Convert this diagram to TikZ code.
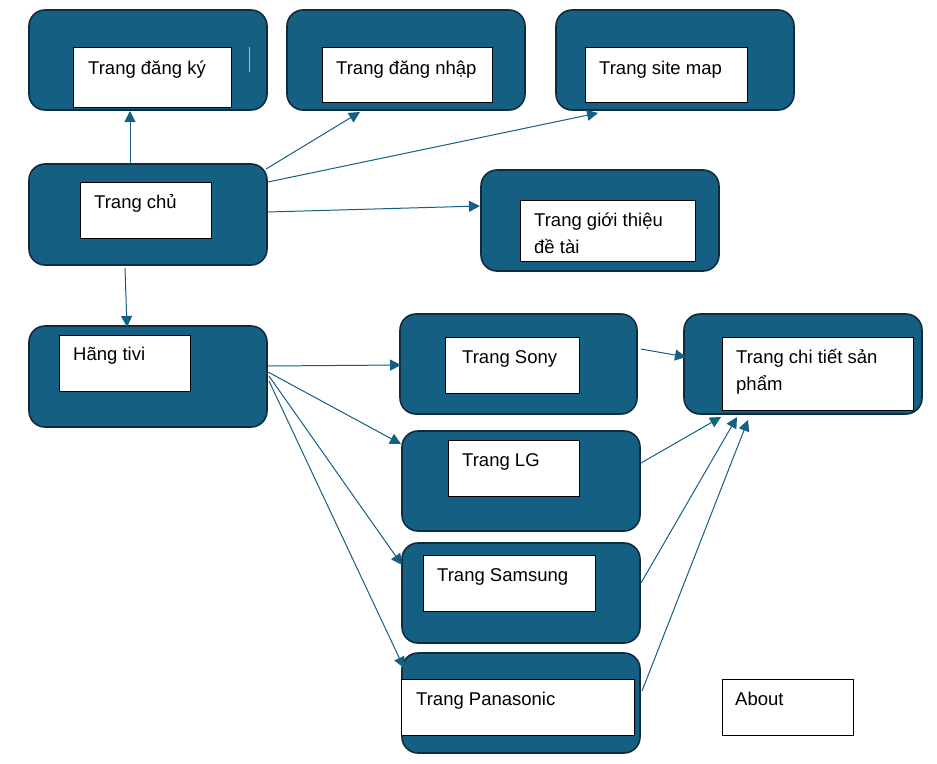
\documentclass[tikz,border=0pt]{standalone}
\usepackage{fontspec}
\setmainfont{Liberation Sans}
\usetikzlibrary{arrows.meta}
\definecolor{tealc}{HTML}{156082}
\definecolor{edgec}{HTML}{0E2C3E}
\definecolor{tanc}{HTML}{D2B49C}
\tikzset{
  outerbox/.style={rectangle, rounded corners=16pt, fill=tealc, draw=edgec, line width=1.6pt, inner sep=0pt, minimum width=238pt, minimum height=100pt},
  innerbox/.style={rectangle, fill=white, draw=black, line width=0.9pt, inner sep=0pt},
  lbl/.style={anchor=base west, inner sep=0pt, font=\fontsize{18.5pt}{22pt}\selectfont},
  conn/.style={draw=tealc, line width=1pt, -{Triangle[length=11pt,width=11pt]}}
}
\begin{document}
\begin{tikzpicture}[x=1pt,y=-1pt]
\useasboundingbox (0,0) rectangle (937,763);
\fill[white] (0,0) rectangle (937,763);

% outer rounded boxes
\node[outerbox] (o1) at (148,60) {};
\node[outerbox] (o2) at (406,60) {};
\node[outerbox] (o3) at (675,60) {};
\node[outerbox, minimum height=101pt] (o4) at (148,214.5) {};
\node[outerbox, minimum height=101pt] (o5) at (600,220.5) {};
\node[outerbox, minimum height=101pt] (o6) at (148,376.5) {};
\node[outerbox, minimum width=237pt] (o7) at (518.5,364) {};
\node[outerbox] (o8) at (521,481) {};
\node[outerbox] (o9) at (521,593) {};
\node[outerbox] (o10) at (521,703) {};
\node[outerbox] (o11) at (803,364) {};

% inner white boxes
\node[innerbox, minimum width=158pt, minimum height=60pt] (i1) at (152,77) {};
\node[innerbox, minimum width=170pt, minimum height=55pt] (i2) at (407,74.5) {};
\node[innerbox, minimum width=162pt, minimum height=55pt] (i3) at (666,74.5) {};
\node[innerbox, minimum width=131pt, minimum height=56pt] (i4) at (145.5,210) {};
\node[innerbox, minimum width=175pt, minimum height=61pt] (i5) at (607.5,230.5) {};
\node[innerbox, minimum width=131pt, minimum height=56pt] (i6) at (124.5,363) {};
\node[innerbox, minimum width=134pt, minimum height=56pt] (i7) at (512,365) {};
\node[innerbox, minimum width=131pt, minimum height=56pt] (i8) at (513.5,468) {};
\node[innerbox, minimum width=172pt, minimum height=56pt] (i9) at (509,583) {};
\node[innerbox, minimum width=233pt, minimum height=56pt] (i10) at (517.5,707) {};
\node[innerbox, minimum width=191pt, minimum height=73pt] (i11) at (817.5,373.5) {};
\node[innerbox, minimum width=131pt, minimum height=56pt] (i12) at (787.5,707) {};

% thin cursor-like mark
\draw[tanc, line width=0.8pt] (249,47) -- (249,72);

% labels
\node[lbl] (t1) at (88,74) {Trang đăng ký};
\node[lbl] (t2) at (336,74) {Trang đăng nhập};
\node[lbl] (t3) at (599,74) {Trang site map};
\node[lbl] (t4) at (94,208) {Trang chủ};
\node[lbl] (t5a) at (534,226) {Trang giới thiệu};
\node[lbl] (t5b) at (534,253) {đề tài};
\node[lbl] (t6) at (73,360) {Hãng tivi};
\node[lbl] (t7) at (462,363) {Trang Sony};
\node[lbl] (t8) at (462,466) {Trang LG};
\node[lbl] (t9) at (437,581) {Trang Samsung};
\node[lbl] (t10) at (416,705) {Trang Panasonic};
\node[lbl] (t11a) at (736,363) {Trang chi tiết sản};
\node[lbl] (t11b) at (736,390) {phẩm};
\node[lbl] (t12) at (735,705) {About};

% connector end points
\coordinate (a1) at (130,163); \coordinate (a2) at (130,111);
\coordinate (b1) at (266,169); \coordinate (b2) at (360,112);
\coordinate (c1) at (268,182); \coordinate (c2) at (598,113);
\coordinate (d1) at (268,212); \coordinate (d2) at (480,206);
\coordinate (e1) at (125,268); \coordinate (e2) at (127,327);
\coordinate (f1) at (268,366); \coordinate (f2) at (401,365);
\coordinate (g1) at (268,372); \coordinate (g2) at (401,444);
\coordinate (h1) at (269,376); \coordinate (h2) at (402,565);
\coordinate (k1) at (269,381); \coordinate (k2) at (404,668);
\coordinate (j1) at (641,349); \coordinate (j2) at (686,357);
\coordinate (m1) at (641,463); \coordinate (m2) at (721,417);
\coordinate (n1) at (641,583); \coordinate (n2) at (737,417);
\coordinate (p1) at (642,691); \coordinate (p2) at (748,420);

\draw[conn] (a1) -- (a2);
\draw[conn] (b1) -- (b2);
\draw[conn] (c1) -- (c2);
\draw[conn] (d1) -- (d2);
\draw[conn] (e1) -- (e2);
\draw[conn] (f1) -- (f2);
\draw[conn] (g1) -- (g2);
\draw[conn] (h1) -- (h2);
\draw[conn] (k1) -- (k2);
\draw[conn] (j1) -- (j2);
\draw[conn] (m1) -- (m2);
\draw[conn] (n1) -- (n2);
\draw[conn] (p1) -- (p2);
\end{tikzpicture}
\end{document}
